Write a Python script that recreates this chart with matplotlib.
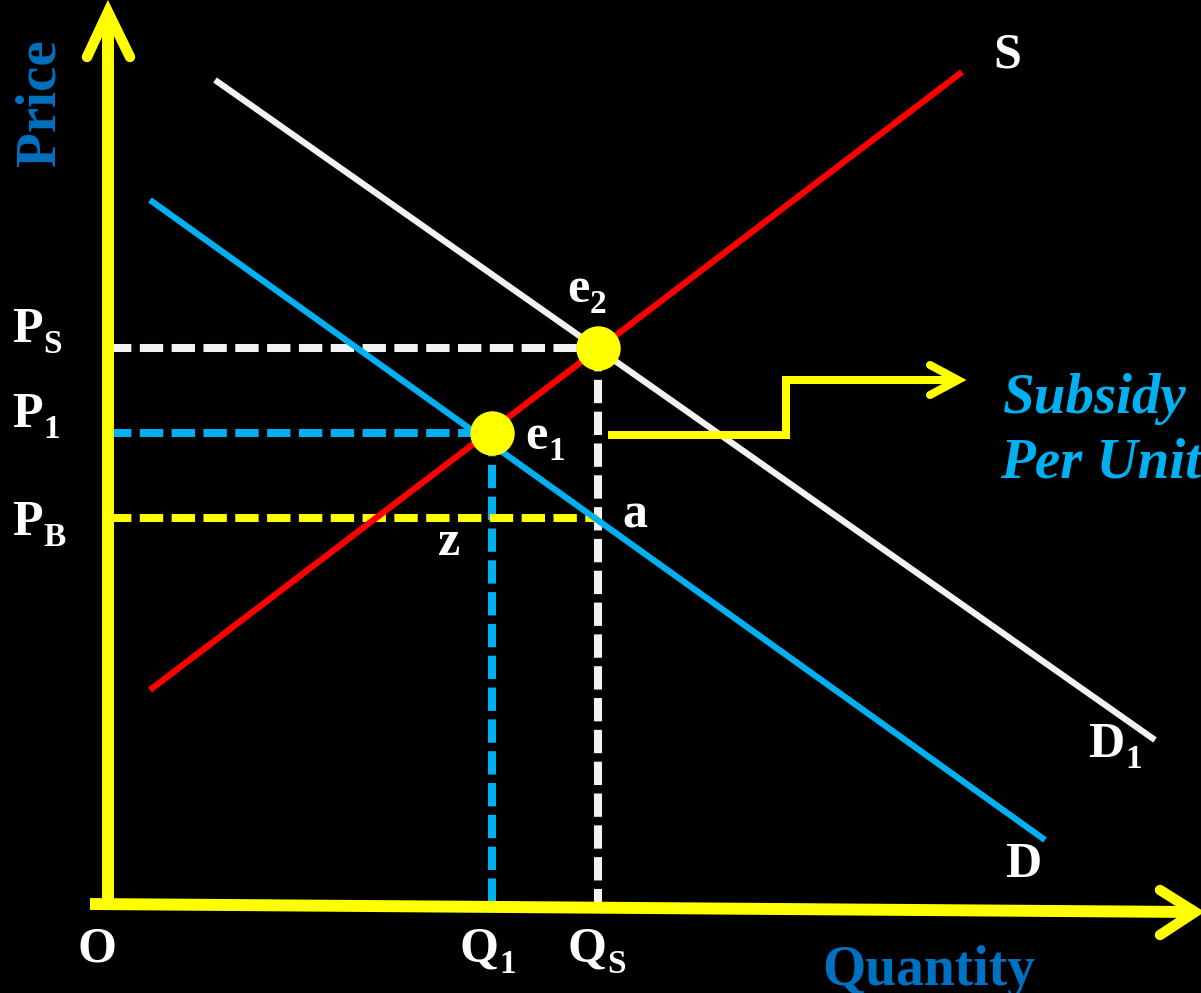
import numpy as np
import matplotlib
matplotlib.use("Agg")
import matplotlib.pyplot as plt

plt.rcParams['font.family'] = ['Liberation Serif', 'DejaVu Serif']

# curve end points (quantity, price), origin at O
supply_q = [42, 854]
supply_p = [215, 833]
demand_q = [42, 937]
demand_p = [705, 65]
demand1_q = [107, 1047]
demand1_p = [825, 165]

# equilibrium / key levels
q1, qs = 384, 490
p_s, p_1, p_b = 557, 472, 387

# subsidy pointer path
subsidy_q = [500, 678, 678, 850]
subsidy_p = [470, 470, 525, 525]

YELLOW = '#FFFF00'
RED = '#FF0000'
WHITE = '#F2F2F2'
BLUE = '#00B0F0'
DARKBLUE = '#0070C0'

fig = plt.figure(figsize=(12.01, 9.93), dpi=100, facecolor='black')
ax = fig.add_axes([0, 0, 1, 1])
ax.set_facecolor('black')
ax.set_xlim(-108, 1093)
ax.set_ylim(-88, 905)
ax.axis('off')

dash = dict(lw=5.8, dashes=(2.9, 1.05), solid_capstyle='butt', dash_capstyle='butt')

# dashed guide lines
ax.plot([0, qs], [p_s, p_s], color=WHITE, **dash, zorder=2)
ax.plot([qs, qs], [p_s, 0], color=WHITE, **dash, zorder=2)
ax.plot([0, q1], [p_1, p_1], color=BLUE, **dash, zorder=2)
ax.plot([q1, q1], [p_1, 0], color=BLUE, **dash, zorder=2)
ax.plot([0, qs], [p_b, p_b], color=YELLOW, **dash, zorder=2)

# curves
ax.plot(demand_q, demand_p, color=BLUE, lw=4.5, solid_capstyle='butt', zorder=3)
ax.plot(supply_q, supply_p, color=RED, lw=4.5, solid_capstyle='butt', zorder=3)
ax.plot(demand1_q, demand1_p, color=WHITE, lw=4.5, solid_capstyle='butt', zorder=3)

# equilibrium points
ax.plot([q1, qs], [p_1, p_s], 'o', color=YELLOW, ms=32, mec='none', zorder=4)

# axes with open arrow heads
ax.plot([0, 0], [0, 893], color=YELLOW, lw=8.6, solid_capstyle='butt', zorder=5)
ax.plot([-21, 0, 22], [848, 893, 848], color=YELLOW, lw=7.5,
        solid_capstyle='round', solid_joinstyle='miter', zorder=5)
ax.plot([-18, 1085], [1, -7], color=YELLOW, lw=8.6, solid_capstyle='butt', zorder=5)
ax.plot([1052, 1087, 1052], [15, -7, -30], color=YELLOW, lw=7.5,
        solid_capstyle='round', solid_joinstyle='miter', zorder=5)

# subsidy pointer
ax.plot(subsidy_q, subsidy_p, color=YELLOW, lw=5.8, solid_capstyle='butt',
        solid_joinstyle='miter', zorder=5)
ax.plot([822, 850, 822], [540, 525, 510], color=YELLOW, lw=5.8,
        solid_capstyle='round', solid_joinstyle='miter', zorder=5)

# labels
lab = dict(color='white', fontsize=36, fontweight='bold', ha='left', va='baseline')


def sublabel(x, y, main, sub):
    t = ax.text(x, y, main, **lab)
    ax.annotate(sub, xy=(1, 0), xycoords=t, xytext=(0.5, -5.3),
                textcoords='offset points', color='white', fontsize=24,
                fontweight='bold', ha='left', va='bottom')


sublabel(-96, 563, 'P', 'S')
sublabel(-96, 478, 'P', '1')
sublabel(-96, 370, 'P', 'B')
sublabel(459, 603, 'e', '2')
sublabel(417, 456, 'e', '1')
sublabel(352, -57, 'Q', '1')
sublabel(460, -57, 'Q', 'S')
sublabel(980, 148, 'D', '1')
ax.text(514, 378, 'a', **lab)
ax.text(330, 350, 'z', **lab)
ax.text(-30, -57, 'O', **lab)
ax.text(897, 28, 'D', **lab)
ax.text(885, 838, 'S', **lab)

ax.text(895, 492, 'Subsidy', color=BLUE, fontsize=41, fontweight='bold',
        fontstyle='italic', ha='left', va='baseline')
ax.text(892, 427, 'Per Unit', color=BLUE, fontsize=41, fontweight='bold',
        fontstyle='italic', ha='left', va='baseline')

ax.text(-68, 802, 'Price', color=DARKBLUE, fontsize=41, fontweight='bold',
        rotation=90, ha='center', va='center')
ax.text(714, -80, 'Quantity', color=DARKBLUE, fontsize=40, fontweight='bold',
        ha='left', va='baseline')

fig.savefig('out.png', dpi=100, facecolor='black')
